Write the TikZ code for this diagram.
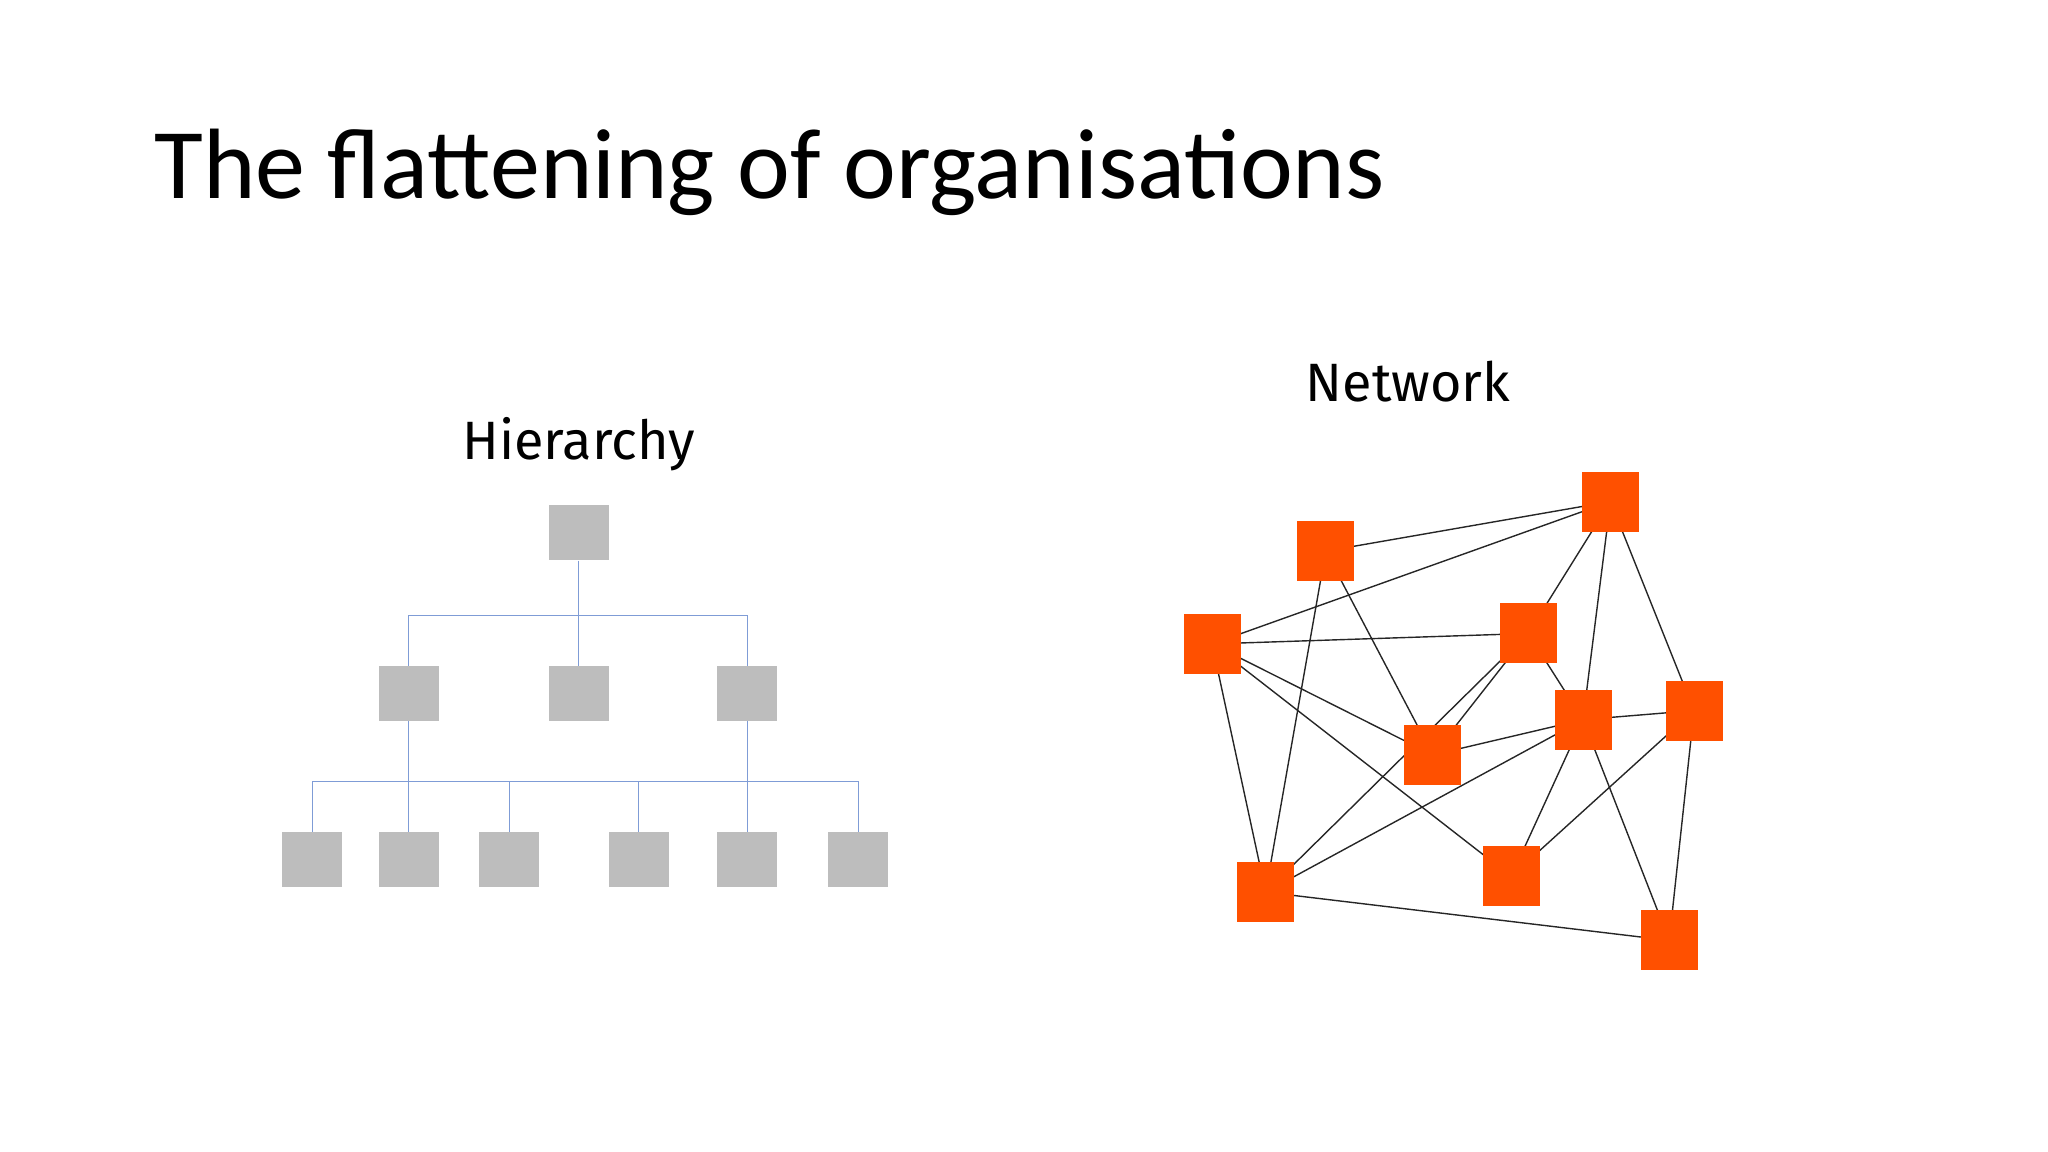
\documentclass[tikz,border=0pt]{standalone}
\usepackage{fontspec}
\setmainfont{Carlito}
\newfontfamily\lab{Fira Sans}
\definecolor{org}{HTML}{FF5000}
\definecolor{gr}{HTML}{BDBDBD}
\definecolor{bl}{HTML}{7F9CD6}
\begin{document}
\begin{tikzpicture}[x=1.306pt,y=-1.306pt,
 onode/.style={fill=org,minimum width=57pt,minimum height=60pt,inner sep=0},
 gnode/.style={fill=gr,minimum width=60pt,minimum height=55pt,inner sep=0},
 ln/.style={draw=black!85,line width=1.4pt},
 hl/.style={draw=bl,line width=1pt}]
\useasboundingbox (0,0) rectangle (1568,882);
\node[anchor=base west,font=\fontsize{100}{100}\selectfont,inner sep=0] (title) at (118,152) {The flattening of organisations};
\node[font=\lab\fontsize{54}{54}\selectfont] (hier) at (443,340) {Hierarchy};
\node[font=\lab\fontsize{54}{54}\selectfont] (net) at (1078,292) {Network};
% hierarchy
\coordinate (h1) at (313,471); \coordinate (h2) at (572,471); \coordinate (h0) at (443,471);
\coordinate (b1) at (239,598); \coordinate (b6) at (657,598);
\coordinate (c3) at (390,598); \coordinate (c4) at (489,598);
\node[gnode] (t) at (443,408) {};
\node[gnode] (m1) at (313,531) {};
\node[gnode] (m2) at (443,531) {};
\node[gnode] (m3) at (572,531) {};
\foreach \x/\n in {239/1,313/2,390/3,489/4,572/5,657/6}{\node[gnode] (l\n) at (\x,658) {};}
\draw[hl] (t) -- (m2);
\draw[hl] (m1) |- (h0) -| (m3);
\draw[hl] (m1) -- (l2);
\draw[hl] (m3) -- (l5);
\draw[hl] (l1) |- (b1) -- (b6) -- (l6);
\draw[hl] (c3) -- (l3); \draw[hl] (c4) -- (l4);
\draw[hl] (b1) -- (b6);
% network
\node[onode] (A) at (1015,422) {};
\node[onode] (B) at (1233,384) {};
\node[onode] (C) at (928,493) {};
\node[onode] (D) at (1170,485) {};
\node[onode] (E) at (1097,578) {};
\node[onode] (F) at (1212,551) {};
\node[onode] (G) at (1297,544) {};
\node[onode] (H) at (969,683) {};
\node[onode] (I) at (1157,671) {};
\node[onode] (J) at (1278,720) {};
\begin{scope}[on background layer/.style={}]
\foreach \a/\b in {A/B,C/B,B/D,B/F,B/G,C/D,C/E,C/I,C/H,A/H,A/E,D/E,D/H,D/F,E/F,F/H,F/I,G/I,F/G,F/J,G/J,H/J}
  \draw[ln] (\a.center) -- (\b.center);
\end{scope}
\foreach \n in {A,B,C,D,E,F,G,H,I,J}{\node[onode] at (\n) {};}
\end{tikzpicture}
\end{document}
